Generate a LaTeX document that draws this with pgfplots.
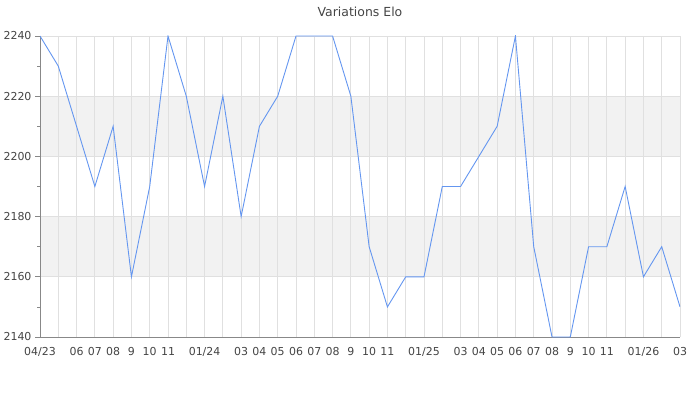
\documentclass[border=0pt]{standalone}
\usepackage{pgfplots}
\pgfplotsset{compat=1.18}
\usepackage{fontspec}
\setmainfont{DejaVu Sans}
\definecolor{txt}{RGB}{68,68,68}
\definecolor{axln}{RGB}{136,136,136}
\definecolor{grd}{RGB}{224,224,224}
\definecolor{band}{RGB}{242,242,242}
\definecolor{line}{RGB}{100,150,240}
\pgfplotstableread{
x y
0 2240
1 2230
2 2210
3 2190
4 2210
5 2160
6 2190
7 2240
8 2220
9 2190
10 2220
11 2180
12 2210
13 2220
14 2240
15 2240
16 2240
17 2220
18 2170
19 2150
20 2160
21 2160
22 2190
23 2190
24 2200
25 2210
26 2240
27 2170
28 2140
29 2140
30 2170
31 2170
32 2190
33 2160
34 2170
35 2150
}\elo
\begin{document}
\begin{tikzpicture}[x=1bp,y=1bp]
\path (0,0) rectangle (700,400);
\begin{axis}[
  set layers,
  at={(40bp,63bp)}, anchor=south west,
  scale only axis, width=640bp, height=301bp,
  xmin=0, xmax=35, ymin=2140, ymax=2240,
  xtick={0,...,35},
  xticklabels={04/23,{},06,07,08,9,10,11,{},01/24,{},03,04,05,06,07,08,9,10,11,{},01/25,{},03,04,05,06,07,08,9,10,11,{},01/26,{},03},
  ytick={2140,2160,...,2240},
  minor y tick num=1,
  xmajorgrids, ymajorgrids,
  major grid style={draw=grd, line width=0.8bp},
  axis x line*=bottom, axis y line*=left,
  axis line style={draw=axln, line width=0.8bp, -},
  tick align=outside,
  major tick length=5bp, minor tick length=3bp,
  xtick style={draw=none},
  ytick style={draw=axln, line width=0.8bp},
  /pgf/number format/assume math mode=true,
  /pgf/number format/1000 sep={},
  tick label style={font=\fontsize{11}{13}\selectfont, text=txt},
  xticklabel style={yshift=-2bp},
  title={Variations Elo},
  every axis title/.style={at={(0.5,1)}, anchor=center, yshift=24bp, font=\fontsize{12.5}{14}\selectfont, text=txt},
]
\begin{pgfonlayer}{axis background}
\fill[band] (axis cs:0,2160) rectangle (axis cs:35,2180);
\fill[band] (axis cs:0,2200) rectangle (axis cs:35,2220);
\end{pgfonlayer}
\addplot[draw=line, line width=0.9bp, mark=none] table[x=x,y=y] {\elo};
\end{axis}
\end{tikzpicture}
\end{document}
